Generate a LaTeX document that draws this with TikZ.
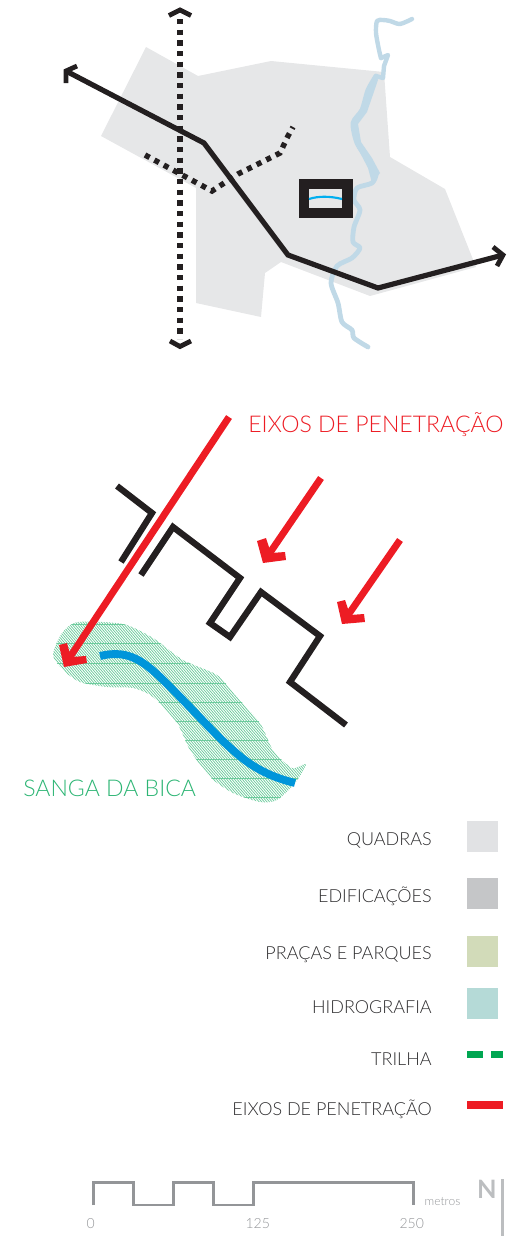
\documentclass[tikz,border=0pt]{standalone}
\usepackage{fontspec}
\setmainfont{Lato}[UprightFont=* Light,BoldFont=* Bold]
\definecolor{quadra}{HTML}{E6E7E8}
\definecolor{road}{HTML}{231F20}
\definecolor{rio}{HTML}{C0D9E7}
\definecolor{vermelho}{HTML}{ED1C24}
\definecolor{azul}{HTML}{0095DA}
\definecolor{azulc}{HTML}{00AEEF}
\definecolor{verde}{HTML}{2DB574}
\definecolor{hatch}{HTML}{6CCB9C}
\definecolor{trilha}{HTML}{00A651}
\definecolor{escala}{HTML}{939598}
\definecolor{escalat}{HTML}{939598}
\definecolor{norte}{HTML}{BCBEC0}
\definecolor{lgq}{HTML}{E1E2E4}
\definecolor{lge}{HTML}{C5C6C8}
\definecolor{lgp}{HTML}{D2DBB9}
\definecolor{lgh}{HTML}{B5DAD7}
\definecolor{texto}{HTML}{2F2E30}
\tikzset{
  roadline/.style={draw=road,line width=3.9pt,line join=miter},
  dotline/.style={draw=road,line width=4.1pt,dash pattern=on 3.9pt off 4.1pt},
  chev/.style={draw=road,line width=3.6pt,line join=miter},
  redshaft/.style={draw=vermelho,line width=5.2pt},
  bldg/.style={draw=road,line width=4.7pt,line join=miter},
  riostyle/.style={draw=rio,line join=round,line cap=round},
  legtext/.style={anchor=base east,font=\fontsize{13.5pt}{16pt}\selectfont,text=texto,inner sep=0pt},
  bigtext/.style={anchor=base west,font=\fontsize{17.3pt}{20pt}\selectfont,inner sep=0pt},
  smalltext/.style={anchor=base,font=\fontsize{10.5pt}{12pt}\selectfont,text=escalat,inner sep=0pt}
}
\begin{document}
\begin{tikzpicture}[x=0.75pt,y=-0.75pt]
\useasboundingbox (0,0) rectangle (517,1236);
% quadras
\fill[quadra] (146,47)--(198,76)--(271,61)--(384,72)--(390,157)--(445,189)--(476,267)--(370,296)--(281,262)--(265,273)--(261,317)--(196,303)--(196,188)--(101,136)--cycle;
% river
\draw[riostyle,line width=3.3pt] plot[smooth,tension=.45] coordinates {(412,19)(400,24)(390,21)(383,20)(377,21)(376,33)(379,50)(381,58)};
\draw[riostyle,line width=3.3pt] (381,58)--(388,55)--(384,66)--(383,78)--(376,76);
\draw[riostyle,line width=3.6pt] plot[smooth,tension=.45] coordinates {(376,76)(368,90)(362,110)(353,123)(357,143)(368,160)(376,173)(372,183)(357,188)(354,200)(360,210)(354,227)(353,242)(360,248)(352,258)(337,266)(331,283)(338,303)(342,322)(352,330)(354,338)(368,347)};
\fill[rio] (376,76)--(361,108)--(352,122)--(356,145)--(368,168)--(372,183)--(380,173)--(372,158)--(361,142)--(358,124)--(367,112)--(378,80)--cycle;
% building
\fill[road] (299,179) rectangle (353,218);
\fill[quadra] (309,189) rectangle (342,208);
\draw[azulc,line width=1.6pt] (309,199) .. controls (318,196) and (330,196) .. (342,199);
% secondary axes
\draw[dotline] (145,155)--(212,191)--(238,174)--(280,153)--(288,136)--(293,127);
\draw[dotline] (180,19)--(180,339);
\draw[chev] (169,15.5)--(180,10)--(191,15.5);
\draw[chev] (170,341)--(180,346.5)--(191,341);
% main road
\draw[roadline] (66,71)--(204,143)--(288,255)--(378,288)--(503,255);
\draw[chev] (77,66)--(66,71)--(66,83);
\draw[chev] (493,247)--(503,255)--(497,266);
% sanga
\begin{scope}
\clip plot[smooth cycle,tension=.45] coordinates {(53,655)(62,633)(78,622)(123,624)(153,638)(183,660)(217,675)(237,697)(260,723)(273,750)(292,768)(306,764)(295,783)(277,800)(260,802)(233,793)(210,777)(190,750)(177,723)(153,697)(133,688)(107,687)(80,682)(63,670)};
\foreach \k in {-300,-297.4,...,320}{\draw[hatch,line width=.55pt] (\k,600)--(\k+190,820);}
\foreach \k in {624,643,663,683,702,721,740,759,778,797}{\draw[hatch,line width=.4pt] (40,\k)--(320,\k);}
\end{scope}
\draw[azul,line width=5.9pt] (100,656) .. controls (125,650) and (140,658) .. (160,677) .. controls (190,706) and (215,735) .. (235,752) .. controls (255,770) and (275,778) .. (295,783);
% building blocks
\draw[bldg] (117,486)--(152,513)--(121,562);
\draw[bldg] (141,575)--(173,527)--(240,578)--(210,623)--(230,637)--(261,592)--(320,636)--(290,682)--(346,725);
% red arrows
\draw[redshaft] (229,417)--(68,660);
\fill[vermelho] (59,645)--(64,667)--(87,663)--(86,656)--(71,657)--(67,643)--cycle;
\draw[redshaft] (321,478)--(267,557);
\fill[vermelho] (257,541)--(263,563)--(286,560)--(285,552)--(271,553)--(266,538)--cycle;
\draw[redshaft] (400,540)--(346,618);
\fill[vermelho] (337,602)--(342,624)--(365,622)--(364,614)--(350,615)--(345,600)--cycle;
% labels
\node[bigtext,text=vermelho] (eixos) at (248,432) {EIXOS DE PENETRAÇÃO};
\node[bigtext,text=verde] (sanga) at (23,796.5) {SANGA DA BICA};
% legend
\node[legtext] (l1) at (432,845) {QUADRAS};
\node[legtext] (l2) at (432,902) {EDIFICAÇÕES};
\node[legtext] (l3) at (432,959) {PRAÇAS E PARQUES};
\node[legtext] (l4) at (432,1013) {HIDROGRAFIA};
\node[legtext] (l5) at (432,1065) {TRILHA};
\node[legtext] (l6) at (432,1115) {EIXOS DE PENETRAÇÃO};
\fill[lgq] (467,821) rectangle (498,852);
\fill[lge] (467,878) rectangle (498,909);
\fill[lgp] (467,936) rectangle (498,967);
\fill[lgh] (467,988) rectangle (498,1019);
\fill[trilha] (467,1050.5) rectangle (483,1058);
\fill[trilha] (491,1050.5) rectangle (503,1058);
\fill[vermelho] (467,1101) rectangle (503,1109);
% scale
\draw[escala,line width=2.1pt,line join=miter] (93.3,1205)--(93.3,1182.7)--(133.3,1182.7)--(133.3,1205)--(173.3,1205)--(173.3,1182.7)--(213.3,1182.7)--(213.3,1205)--(253.3,1205)--(253.3,1182.7)--(413.3,1182.7)--(413.3,1205);
\node[smalltext] (s0) at (90.7,1228) {0};
\node[smalltext] (s1) at (257.7,1228) {125};
\node[smalltext] (s2) at (411.7,1228) {250};
\node[smalltext,font=\fontsize{9pt}{10pt}\selectfont] (m) at (442.5,1205) {metros};
\node[anchor=base,inner sep=0pt,font=\bfseries\fontsize{19pt}{20pt}\selectfont,text=norte] (n) at (487,1198) {N};
\draw[norte,line width=1.9pt] (502.7,1179)--(502.7,1236);
\end{tikzpicture}
\end{document}
